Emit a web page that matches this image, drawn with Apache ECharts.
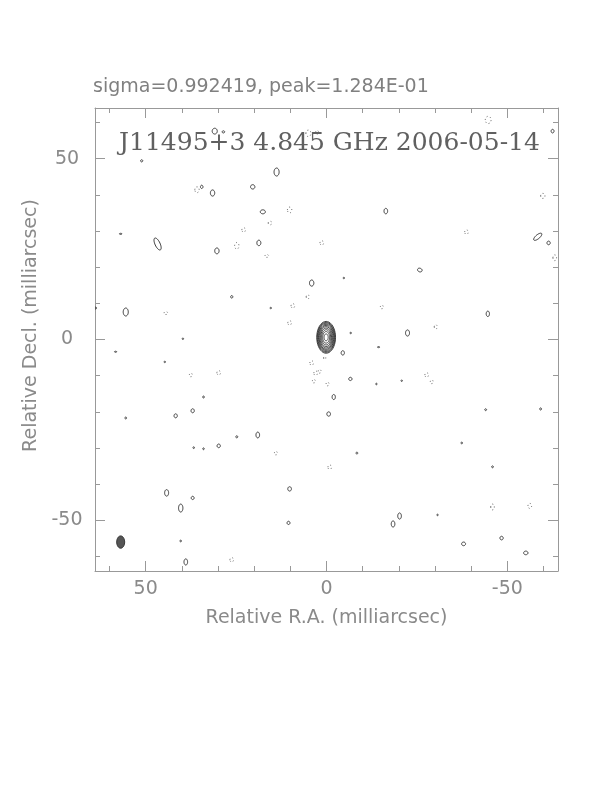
<!DOCTYPE html>
<html><head><meta charset="utf-8">
<script src="https://cdn.jsdelivr.net/npm/echarts@6/dist/echarts.min.js"></script>
<style>html,body{margin:0;padding:0;background:#fff}#c{width:612px;height:792px}</style>
</head><body><div id="c"></div>
<script>
const titleText = 'sigma=0.992419, peak=1.284E-01';
const mapLabel = 'J11495+3 4.845 GHz 2006-05-14';
const xAxisName = 'Relative R.A. (milliarcsec)';
const yAxisName = 'Relative Decl. (milliarcsec)';
const axisMin = -64, axisMax = 64;
const majorTicks = [-50, 0, 50];
const minorTicks = [-60, -50, -40, -30, -20, -10, 0, 10, 20, 30, 40, 50, 60];

// central component: centre and nested contour semi-axes (mas)
const coreCenter = [0.1, 0.6];
const coreRx = [2.6, 2.45, 2.3, 2.12, 1.94, 1.73, 1.5, 1.24, 0.95, 0.57];
const coreRy = [4.4, 4.15, 3.9, 3.6, 3.3, 2.95, 2.55, 2.1, 1.6, 0.95];

// positive (solid) noise contours: [x, y, rx, ry, angle]
const positiveBlobs = [
 [30.9, 57.6, 0.7, 0.8, 0], [28.5, 57.4, 0.35, 0.3, 0], [-62.5, 57.6, 0.4, 0.5, 0],
 [51.1, 49.4, 0.3, 0.3, 0], [34.5, 42.2, 0.35, 0.45, 0], [31.5, 40.5, 0.6, 0.85, 0],
 [20.4, 42.2, 0.6, 0.6, 0], [13.8, 46.3, 0.7, 1.1, 0], [17.6, 35.3, 0.7, 0.55, 0],
 [-16.4, 35.5, 0.5, 0.75, 0], [56.9, 29.2, 0.35, 0.15, 0], [46.7, 26.4, 0.7, 1.8, -25],
 [30.3, 24.5, 0.6, 0.8, 0], [18.7, 26.7, 0.55, 0.75, 0], [4.1, 15.6, 0.6, 0.85, 0],
 [26.2, 11.8, 0.3, 0.35, 0], [55.5, 7.6, 0.7, 1.1, 0], [15.4, 8.7, 0.2, 0.2, 0],
 [63.8, 8.7, 0.25, 0.25, 0], [39.7, 0.2, 0.2, 0.2, 0], [-61.4, 26.7, 0.45, 0.5, 0],
 [-58.4, 28.4, 0.55, 1.4, 50], [-25.8, 19.2, 0.65, 0.5, 20], [-4.8, 17.0, 0.2, 0.2, 0],
 [-44.6, 7.1, 0.45, 0.75, 0], [-22.4, 1.8, 0.55, 0.85, 0], [-6.7, 1.8, 0.2, 0.2, 0],
 [-4.5, -3.7, 0.45, 0.6, 0], [-14.4, -2.1, 0.3, 0.15, 0], [44.7, -6.2, 0.2, 0.2, 0],
 [58.3, -3.4, 0.3, 0.15, 0], [-2.0, -15.9, 0.45, 0.7, 0], [-6.6, -10.9, 0.45, 0.45, 0],
 [-13.8, -12.3, 0.2, 0.2, 0], [-20.8, -11.4, 0.2, 0.2, 0], [34.0, -15.9, 0.25, 0.25, 0],
 [-0.6, -20.6, 0.5, 0.6, 0], [37.0, -19.7, 0.45, 0.55, 0], [41.7, -21.1, 0.45, 0.55, 0],
 [-44.0, -19.4, 0.25, 0.25, 0], [-59.2, -19.2, 0.25, 0.3, 0], [55.5, -21.7, 0.25, 0.25, 0],
 [19.0, -26.4, 0.5, 0.8, 0], [24.8, -26.9, 0.25, 0.3, 0], [29.8, -29.4, 0.45, 0.5, 0],
 [36.7, -29.9, 0.2, 0.25, 0], [34.0, -30.2, 0.2, 0.25, 0], [-8.4, -31.4, 0.25, 0.25, 0],
 [-37.4, -28.6, 0.2, 0.25, 0], [-45.9, -35.2, 0.25, 0.25, 0], [44.2, -42.4, 0.55, 0.9, 0],
 [37.0, -43.8, 0.4, 0.45, 0], [10.2, -41.3, 0.5, 0.6, 0], [40.3, -46.6, 0.6, 1.1, 0],
 [10.5, -50.7, 0.4, 0.45, 0], [-20.2, -48.8, 0.5, 0.85, 0], [-18.4, -51.0, 0.5, 0.85, 0],
 [-30.7, -48.5, 0.2, 0.2, 0], [-37.9, -56.5, 0.55, 0.5, 0], [-48.4, -54.9, 0.45, 0.5, 0],
 [-55.1, -59.0, 0.6, 0.5, 0], [40.3, -55.7, 0.2, 0.25, 0], [38.9, -61.5, 0.5, 0.85, 0]
];

// negative (dotted) noise contours: [x, y, rx, ry, angle]
const negativeBlobs = [
 [5.0, 57.0, 0.7, 0.9, 0], [2.6, 57.3, 0.4, 0.5, 0], [-44.7, 60.7, 0.8, 1.0, 0],
 [35.8, 41.4, 0.6, 0.8, 0], [10.2, 35.8, 0.6, 0.8, 0], [15.6, 32.2, 0.5, 0.5, 0],
 [22.9, 30.3, 0.5, 0.6, 0], [24.8, 25.9, 0.6, 0.9, 0], [16.5, 23.1, 0.5, 0.4, 0],
 [1.3, 26.7, 0.5, 0.6, 0], [5.2, 11.8, 0.4, 0.6, 0], [44.4, 7.3, 0.5, 0.4, 0],
 [9.3, 9.3, 0.5, 0.6, 0], [10.2, 4.6, 0.5, 0.6, 0], [-38.7, 29.7, 0.5, 0.6, 0],
 [-59.8, 39.7, 0.6, 0.7, 0], [-63.1, 22.6, 0.5, 0.8, 0], [-15.3, 9.0, 0.4, 0.5, 0],
 [-30.2, 3.5, 0.4, 0.6, 0], [4.1, -6.5, 0.5, 0.6, 0], [3.0, -9.3, 0.5, 0.6, 0],
 [3.5, -11.5, 0.4, 0.5, 0], [1.9, -8.8, 0.4, 0.5, 0], [0.5, -5.1, 0.3, 0.4, 0],
 [-0.3, -12.3, 0.4, 0.5, 0], [29.8, -9.2, 0.5, 0.6, 0], [37.5, -9.8, 0.4, 0.5, 0],
 [-27.7, -9.8, 0.5, 0.6, 0], [-29.1, -11.7, 0.4, 0.5, 0], [14.0, -31.4, 0.4, 0.5, 0],
 [-0.9, -35.3, 0.5, 0.6, 0], [-45.9, -46.3, 0.5, 0.8, 0], [-56.2, -46.0, 0.5, 0.7, 0],
 [26.2, -60.9, 0.5, 0.6, 0]
];

// restoring beam: [x, y, rx, ry, angle]
const beam = [56.9, -56.0, 1.1, 1.7, 0];

const coreData = coreRx.map((rx, i) => [coreCenter[0], coreCenter[1], rx, coreRy[i], 0]);

function ellipsePoints(api, cx, cy, rx, ry, angDeg) {
  const a = angDeg * Math.PI / 180, pts = [];
  const n = 40;
  for (let i = 0; i < n; i++) {
    const t = 2 * Math.PI * i / n;
    const ex = rx * Math.cos(t), ey = ry * Math.sin(t);
    const dx = ex * Math.cos(a) - ey * Math.sin(a);
    const dy = ex * Math.sin(a) + ey * Math.cos(a);
    pts.push(api.coord([cx + dx, cy + dy]));
  }
  return pts;
}
function makeRender(style) {
  return function (params, api) {
    const pts = ellipsePoints(api, api.value(0), api.value(1), api.value(2), api.value(3), api.value(4));
    return { type: 'polygon', shape: { points: pts }, style: Object.assign({}, style) };
  };
}

const labelFont = 'DejaVu Sans';
const axisColor = '#999';
const labelColor = '#8a8a8a';
function baseAxis(extra) {
  return Object.assign({
    type: 'value', min: axisMin, max: axisMax,
    splitLine: { show: false },
    axisLine: { show: true, onZero: false, lineStyle: { color: axisColor, width: 1 } },
    axisLabel: { show: false },
    axisTick: { show: true, inside: true, length: 5, customValues: minorTicks, lineStyle: { color: axisColor, width: 1 } }
  }, extra);
}
function majorAxis(extra) {
  return baseAxis(Object.assign({
    axisLine: { show: false, onZero: false },
    axisTick: { show: true, inside: true, length: 10, customValues: majorTicks, lineStyle: { color: axisColor, width: 1 } }
  }, extra));
}

const chart = echarts.init(document.getElementById('c'), null, { renderer: 'canvas' });
chart.setOption({
  animation: false,
  backgroundColor: '#fff',
  title: [
    { text: titleText, left: 93, top: 78, padding: 0,
      textStyle: { fontFamily: labelFont, fontSize: 19, fontWeight: 'normal', color: '#808080' } },
    { text: mapLabel, left: 119, top: 131, padding: 0,
      textStyle: { fontFamily: 'DejaVu Serif', fontSize: 25, fontWeight: 'normal', color: '#606060' } }
  ],
  grid: { left: 95, top: 108, width: 463, height: 463, outerBoundsMode: 'none', containLabel: false },
  xAxis: [
    baseAxis({ position: 'bottom', inverse: true,
      axisLabel: { show: true, customValues: majorTicks, margin: 9, color: labelColor, fontSize: 19, fontFamily: labelFont },
      name: xAxisName, nameLocation: 'middle', nameGap: 38,
      nameTextStyle: { fontFamily: labelFont, fontSize: 19, color: labelColor } }),
    majorAxis({ position: 'bottom', inverse: true }),
    baseAxis({ position: 'top', inverse: true }),
    majorAxis({ position: 'top', inverse: true })
  ],
  yAxis: [
    baseAxis({ position: 'left',
      axisLabel: { show: true, customValues: majorTicks, margin: 28, align: 'center', color: labelColor, fontSize: 19, fontFamily: labelFont },
      name: yAxisName, nameLocation: 'middle', nameGap: 42, nameRotate: 90,
      nameTextStyle: { fontFamily: labelFont, fontSize: 19, color: labelColor, padding: [0, 0, 0, 28] } }),
    majorAxis({ position: 'left' }),
    baseAxis({ position: 'right' }),
    majorAxis({ position: 'right' })
  ],
  series: [
    { type: 'custom', name: 'core', xAxisIndex: 0, yAxisIndex: 0, clip: true,
      encode: { x: 0, y: 1 }, data: coreData,
      renderItem: makeRender({ fill: 'none', stroke: '#333', lineWidth: 0.9 }) },
    { type: 'custom', name: 'positive', xAxisIndex: 0, yAxisIndex: 0, clip: true,
      encode: { x: 0, y: 1 }, data: positiveBlobs,
      renderItem: makeRender({ fill: 'none', stroke: '#333', lineWidth: 1 }) },
    { type: 'custom', name: 'negative', xAxisIndex: 0, yAxisIndex: 0, clip: true,
      encode: { x: 0, y: 1 }, data: negativeBlobs,
      renderItem: makeRender({ fill: 'none', stroke: '#555', lineWidth: 1, lineDash: [1, 2.5] }) },
    { type: 'custom', name: 'beam', xAxisIndex: 0, yAxisIndex: 0, clip: true,
      encode: { x: 0, y: 1 }, data: [beam],
      renderItem: makeRender({ fill: '#555', stroke: '#333', lineWidth: 1 }) }
  ]
});
</script>
</body></html>
